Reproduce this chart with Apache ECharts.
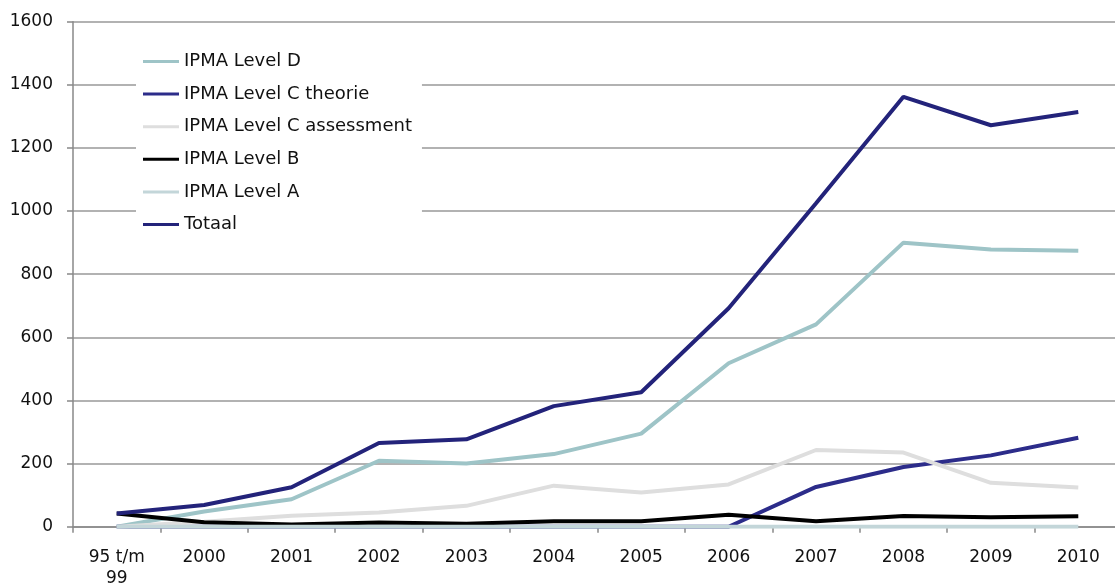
<!DOCTYPE html>
<html>
<head>
<meta charset="utf-8">
<script src="https://cdn.jsdelivr.net/npm/echarts@6/dist/echarts.min.js"></script>
<style>
html,body{margin:0;padding:0;background:#fff;}
#chart{width:1115px;height:585px;}
</style>
</head>
<body>
<div id="chart"></div>
<script>
var categories = ['95 t/m\n99','2000','2001','2002','2003','2004','2005','2006','2007','2008','2009','2010'];
var yTicks = [0, 200, 400, 600, 800, 1000, 1200, 1400, 1600];
var levelD = [0, 48, 87, 209, 200, 230, 295, 518, 641, 900, 878, 874];
var levelCTheorie = [0, 0, 0, 0, 0, 0, 0, 0, 126, 189, 226, 282];
var levelCAssessment = [0, 16, 35, 45, 66, 130, 108, 134, 243, 235, 139, 124];
var levelB = [42, 14, 7, 13, 9, 17, 17, 38, 17, 34, 30, 33];
var levelA = [0, 0, 0, 0, 0, 0, 0, 0, 0, 0, 0, 0];
var totaal = [42, 69, 125, 265, 277, 382, 426, 692, 1025, 1362, 1272, 1314];

var FONT = 'DejaVu Sans';
function mk(name, data, color) {
  return {
    name: name, type: 'line', data: data, symbol: 'none',
    lineStyle: {color: color, width: 4}, itemStyle: {color: color},
    animation: false
  };
}
var chart = echarts.init(document.getElementById('chart'));
chart.setOption({
  backgroundColor: '#fff',
  animation: false,
  textStyle: {fontFamily: FONT},
  grid: {left: 73, top: 21.7, width: 1049, height: 505, outerBoundsMode: 'none'},
  legend: {
    orient: 'vertical', left: 136, top: 42.5,
    backgroundColor: '#fff',
    padding: [10, 10, 14, 7],
    icon: 'rect',
    itemWidth: 36, itemHeight: 3, itemGap: 14.6,
    textStyle: {fontFamily: FONT, fontSize: 18, color: '#111'},
    data: ['IPMA Level D', 'IPMA Level C theorie', 'IPMA Level C assessment', 'IPMA Level B', 'IPMA Level A', 'Totaal']
  },
  xAxis: {
    type: 'category', data: categories, boundaryGap: true,
    axisLine: {lineStyle: {color: '#888', width: 1.5}},
    axisTick: {show: true, length: 6, lineStyle: {color: '#888', width: 1.5}},
    axisLabel: {fontFamily: FONT, fontSize: 17, color: '#111', margin: 20, lineHeight: 21, interval: 0},
    splitLine: {show: false}
  },
  yAxis: {
    type: 'value', min: yTicks[0], max: yTicks[yTicks.length - 1], interval: 200,
    axisLine: {show: true, lineStyle: {color: '#888', width: 1.5}},
    axisTick: {show: true, length: 6, lineStyle: {color: '#888', width: 1.5}},
    axisLabel: {fontFamily: FONT, fontSize: 17, color: '#111', margin: 20, formatter: function (v) { return String(v); }},
    splitLine: {show: true, lineStyle: {color: '#999', width: 1.5}}
  },
  series: [
    mk('IPMA Level D', levelD, '#9ec4c7'),
    mk('IPMA Level C theorie', levelCTheorie, '#2c2c8a'),
    mk('IPMA Level C assessment', levelCAssessment, '#dedede'),
    mk('IPMA Level B', levelB, '#000000'),
    mk('IPMA Level A', levelA, '#c3d6d9'),
    mk('Totaal', totaal, '#23237a')
  ]
});
</script>
</body>
</html>
